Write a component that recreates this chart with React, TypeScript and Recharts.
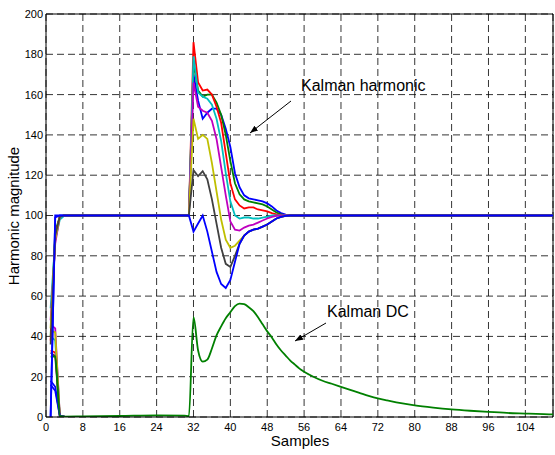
import { LineChart, Line, XAxis, YAxis, CartesianGrid, ReferenceLine } from "recharts";

// sample positions where the harmonic estimates move (flat at 100 in between)
const harmonicX = [1, 2, 3, 4, 31, 32, 33, 34, 35, 36, 37, 38, 39, 40, 41, 42, 43, 44, 45, 46, 47, 48, 49, 50, 51, 52, 53, 54, 55, 56, 110];

const harmBlueUpper = [0, 100, 100, 100, 100, 170, 157, 148, 151, 153, 153, 150, 143, 134, 121, 114, 110, 108.5, 108, 107.5, 107, 106, 104.5, 102.5, 101.2, 100.4, 100, 100, 100, 100, 100];
const harmGreen = [40, 92, 99.5, 100, 100, 176, 162, 159, 160, 160, 156, 150, 140, 127, 116, 110.5, 108, 107, 106.5, 106, 105.5, 104.5, 103, 101.5, 100.5, 100, 100, 100, 100, 100, 100];
const harmRed = [38, 90, 99.5, 100, 100, 186, 166, 162, 162.5, 160, 154, 146, 131, 116, 108, 105, 103.5, 104, 104, 103, 102.5, 102, 101.2, 100.6, 100.2, 100, 100, 100, 100, 100, 100];
const harmCyan = [54, 88, 98, 100, 100, 179, 161, 159, 158, 155, 148, 137, 121, 107, 100, 98.5, 99, 99, 98.5, 98.5, 99, 99.5, 100, 100, 100, 100, 100, 100, 100, 100, 100];
const harmMagenta = [48, 86, 99.5, 100, 100, 166, 154, 152, 151, 147, 138, 124, 110, 97, 93, 92.5, 94, 95, 95.5, 96.5, 97.5, 98.5, 99.3, 99.8, 100, 100, 100, 100, 100, 100, 100];
const harmYellow = [44, 88, 99.5, 100, 100, 148, 138, 140, 138, 126, 112, 98, 88, 84, 85, 87.5, 90, 92, 93, 93.5, 94.5, 95.5, 97, 98.5, 99.3, 99.8, 100, 100, 100, 100, 100];
const harmGray = [36, 90, 99.5, 100, 100, 122.5, 119.5, 122, 118, 108, 96, 84, 76, 74.5, 80, 86, 90, 92, 93, 93.5, 94.5, 95.5, 97, 98.5, 99.3, 99.8, 100, 100, 100, 100, 100];
const harmBlueLower = [0, 99, 100, 100, 100, 92, 96, 100, 92, 82, 72, 66, 64, 68, 77, 86, 90, 92, 93, 93.5, 94.5, 95.5, 97, 98.5, 99.3, 99.8, 100, 100, 100, 100, 100];

// DC estimates: start transient of each run, then all runs share the green curve
const dcStartX = [1, 2, 3, 4];
const dcStartBlue = [18, 15, 0.5, 0.2];
const dcStartRed = [33, 32, 0.5, 0.2];
const dcStartCyan = [40, 38, 0.5, 0.2];
const dcStartMagenta = [46, 44, 0.5, 0.2];
const dcStartYellow = [43, 42, 0.5, 0.2];
const dcStartGray = [32, 30, 0.5, 0.2];
const dcStartBlue2 = [16, 13, 0.5, 0.2];

const dcX = [1, 2, 3, 4, 8, 16, 24, 30, 31, 32, 33, 34, 35, 36, 37, 38, 39, 40, 41, 42, 43, 44, 45, 46, 47, 48, 49, 50, 51, 52, 53, 54, 55, 56, 58, 60, 62, 64, 66, 68, 70, 72, 74, 76, 78, 80, 84, 88, 92, 96, 100, 104, 108, 110];
const dcGreen = [30, 30, 0.5, 0.2, 0.3, 0.5, 0.8, 0.7, 0.3, 49.5, 33, 27.5, 28.5, 34, 40.5, 45, 49, 52, 55, 56.3, 56, 54.5, 52.5, 49.5, 46, 42.5, 39.5, 36, 33, 30.5, 28, 26, 24, 22.5, 20, 18, 16.5, 15, 13.5, 12, 10.5, 9.2, 8.2, 7.3, 6.5, 5.8, 4.7, 3.8, 3.1, 2.5, 2, 1.7, 1.4, 1.3];

const xTicks = [0, 8, 16, 24, 32, 40, 48, 56, 64, 72, 80, 88, 96, 104];
const yTicks = [0, 20, 40, 60, 80, 100, 120, 140, 160, 180, 200];

const BLUE = "#0000ff";
const GREEN = "#008000";
const RED = "#ff0000";
const CYAN = "#00bfbf";
const MAGENTA = "#bf00bf";
const YELLOW = "#bfbf00";
const GRAY = "#404040";

const toPoints = (xs: number[], ys: number[]) => xs.map((x, i) => ({ x, y: ys[i] }));

const series = [
  { name: "dc-b", color: BLUE, curve: "linear", data: toPoints(dcStartX, dcStartBlue) },
  { name: "dc-r", color: RED, curve: "linear", data: toPoints(dcStartX, dcStartRed) },
  { name: "dc-c", color: CYAN, curve: "linear", data: toPoints(dcStartX, dcStartCyan) },
  { name: "dc-m", color: MAGENTA, curve: "linear", data: toPoints(dcStartX, dcStartMagenta) },
  { name: "dc-y", color: YELLOW, curve: "linear", data: toPoints(dcStartX, dcStartYellow) },
  { name: "dc-k", color: GRAY, curve: "linear", data: toPoints(dcStartX, dcStartGray) },
  { name: "dc-b2", color: BLUE, curve: "linear", data: toPoints(dcStartX, dcStartBlue2) },
  { name: "dc-g", color: GREEN, curve: "monotone", data: toPoints(dcX, dcGreen) },
  { name: "h-b", color: BLUE, curve: "linear", data: toPoints(harmonicX, harmBlueUpper) },
  { name: "h-g", color: GREEN, curve: "linear", data: toPoints(harmonicX, harmGreen) },
  { name: "h-r", color: RED, curve: "linear", data: toPoints(harmonicX, harmRed) },
  { name: "h-c", color: CYAN, curve: "linear", data: toPoints(harmonicX, harmCyan) },
  { name: "h-m", color: MAGENTA, curve: "linear", data: toPoints(harmonicX, harmMagenta) },
  { name: "h-y", color: YELLOW, curve: "linear", data: toPoints(harmonicX, harmYellow) },
  { name: "h-k", color: GRAY, curve: "linear", data: toPoints(harmonicX, harmGray) },
  { name: "h-b2", color: BLUE, curve: "linear", data: toPoints(harmonicX, harmBlueLower) },
];

const font = "'Liberation Sans', Arial, sans-serif";

export default function App() {
  return (
    <div style={{ position: "fixed", left: 0, top: 0, width: 555, height: 455, background: "#fff", fontFamily: font }}>
      <LineChart width={555} height={455} margin={{ top: 14, right: 2, bottom: 0, left: 0 }}>
        <CartesianGrid stroke="#000" strokeWidth={0.8} strokeDasharray="7 4" />
        <XAxis
          type="number"
          dataKey="x"
          domain={[0, 110]}
          ticks={xTicks}
          allowDataOverflow
          height={38}
          stroke="#000"
          tickLine={false}
          tickSize={4}
          tickMargin={2}
          tick={{ fill: "#000", fontSize: 11, fontFamily: font }}
        />
        <YAxis
          type="number"
          domain={[0, 200]}
          ticks={yTicks}
          allowDataOverflow
          width={46}
          stroke="#000"
          tickLine={false}
          tickSize={2}
          tickMargin={1}
          tick={{ fill: "#000", fontSize: 11, fontFamily: font }}
        />
        <ReferenceLine y={200} stroke="#000" strokeWidth={1} />
        <ReferenceLine x={110} stroke="#000" strokeWidth={1} />
        {series.map((s) => (
          <Line
            key={s.name}
            data={s.data}
            dataKey="y"
            type={s.curve as "linear" | "monotone"}
            stroke={s.color}
            strokeWidth={1.8}
            dot={false}
            activeDot={false}
            isAnimationActive={false}
          />
        ))}
      </LineChart>
      <svg width={555} height={455} style={{ position: "absolute", left: 0, top: 0, pointerEvents: "none" }}>
        <defs>
          <marker id="head" markerWidth="8" markerHeight="6" refX="8" refY="3" orient="auto" markerUnits="userSpaceOnUse">
            <path d="M0,0 L8,3 L0,6 Z" fill="#000" />
          </marker>
        </defs>
        <line x1={291} y1={101} x2={250} y2={133} stroke="#000" strokeWidth={1} markerEnd="url(#head)" />
        <text x={301} y={91} fontSize={16} fontFamily={font} fill="#000">Kalman harmonic</text>
        <line x1={326} y1={323} x2={295} y2={341} stroke="#000" strokeWidth={1} markerEnd="url(#head)" />
        <text x={327} y={317} fontSize={16} fontFamily={font} fill="#000">Kalman DC</text>
        <text x={300} y={446} fontSize={15} fontFamily={font} fill="#000" textAnchor="middle">Samples</text>
        <text x={19} y={216} fontSize={15} fontFamily={font} fill="#000" textAnchor="middle" transform="rotate(-90 19 216)">Harmonic magnitude</text>
      </svg>
    </div>
  );
}
